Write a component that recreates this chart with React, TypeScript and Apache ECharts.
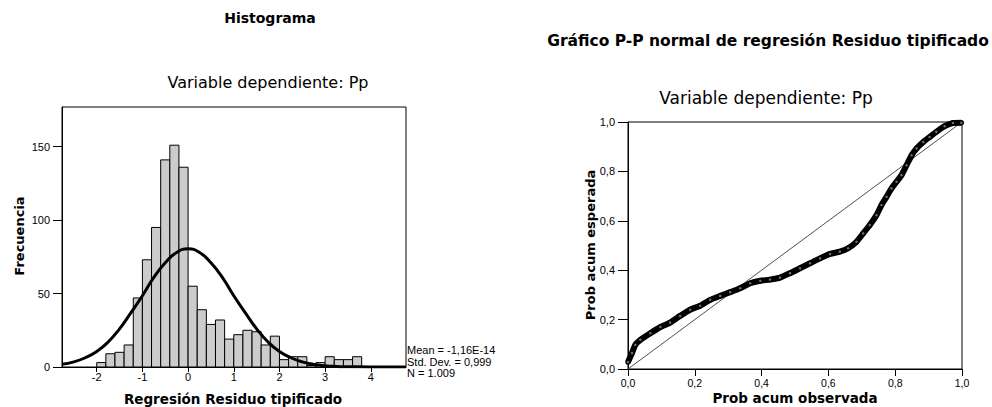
import React, { useEffect, useRef } from "react";
import * as echarts from "echarts";

// Histogram: bin starts (width 0.2) and counts
const histBinStart = [-2.0, -1.8, -1.6, -1.4, -1.2, -1.0, -0.8, -0.6, -0.4, -0.2, 0.0, 0.2, 0.4, 0.6, 0.8, 1.0, 1.2, 1.4, 1.6, 1.8, 2.0, 2.2, 2.4, 2.6, 2.8, 3.0, 3.2, 3.4, 3.6];
const histCounts = [3, 9, 10, 15, 47, 73, 95, 141, 151, 136, 55, 39, 29, 32, 19, 22, 25, 24, 15, 21, 5, 7, 7, 1, 3, 7, 5, 5, 7];
const histBinWidth = 0.2;

// Normal curve
const curveX = [-2.76, -2.5, -2.25, -2.0, -1.75, -1.5, -1.25, -1.0, -0.75, -0.5, -0.25, 0.0, 0.25, 0.5, 0.75, 1.0, 1.25, 1.5, 1.75, 2.0, 2.25, 2.5, 2.75, 3.0, 3.25, 3.5, 4.0, 4.77];
const curveY = [1.8, 3.5, 6.3, 10.5, 17, 26, 37, 48.5, 61, 71, 78, 80.5, 78, 71, 61, 48.5, 37, 26, 17, 10.5, 6.3, 3.5, 1.8, 0.9, 0.4, 0.2, 0, 0];

const histYTicks = [0, 50, 100, 150];
const histXTicks = [-2, -1, 0, 1, 2, 3, 4];
const statLines = ["Mean = -1,16E-14", "Std. Dev. = 0,999", "N = 1.009"];

// P-P plot: observed vs expected cumulative probability
const ppObs = [0.0, 0.012, 0.022, 0.037, 0.067, 0.097, 0.126, 0.156, 0.186, 0.216, 0.246, 0.276, 0.306, 0.336, 0.366, 0.396, 0.425, 0.455, 0.485, 0.515, 0.545, 0.575, 0.605, 0.634, 0.659, 0.684, 0.704, 0.724, 0.744, 0.759, 0.774, 0.789, 0.804, 0.819, 0.834, 0.849, 0.864, 0.884, 0.903, 0.923, 0.948, 0.973, 0.998];
const ppExp = [0.028, 0.065, 0.098, 0.118, 0.145, 0.17, 0.188, 0.215, 0.24, 0.256, 0.28, 0.296, 0.311, 0.327, 0.347, 0.357, 0.362, 0.37, 0.388, 0.408, 0.428, 0.448, 0.466, 0.475, 0.489, 0.515, 0.549, 0.583, 0.623, 0.664, 0.697, 0.731, 0.758, 0.785, 0.825, 0.865, 0.893, 0.919, 0.939, 0.96, 0.983, 0.996, 0.997];
const ppTicks = [0, 0.2, 0.4, 0.6, 0.8, 1.0];

const titleLeft = "Histograma";
const titleRight = "Gráfico P-P normal de regresión Residuo tipificado";
const subtitle = "Variable dependiente: Pp";

export default function App() {
  const ref = useRef<HTMLDivElement>(null);
  useEffect(() => {
    if (!ref.current) return;
    const chart = echarts.init(ref.current, null, { renderer: "svg" });
    const tickFont = { color: "#000", fontSize: 11, fontFamily: "Liberation Sans" };
    const fmtComma = (v: number) => v.toFixed(1).replace(".", ",");
    const option: any = {
      animation: false,
      backgroundColor: "#fff",
      grid: [
        { left: 62, top: 107, width: 344, height: 260, show: true, borderColor: "#000", borderWidth: 1, containLabel: false },
        { left: 628, top: 122, width: 334, height: 247, show: true, borderColor: "#000", borderWidth: 1, containLabel: false },
      ],
      xAxis: [
        {
          gridIndex: 0, type: "value", min: -2.76, max: 4.77,
          splitLine: { show: false },
          axisLine: { onZero: false, lineStyle: { color: "#000", width: 1 } },
          axisTick: { length: 5, lineStyle: { color: "#000" }, customValues: histXTicks },
          axisLabel: { ...tickFont, margin: 4, customValues: histXTicks },
        },
        {
          gridIndex: 1, type: "value", min: 0, max: 1, interval: 0.2,
          splitLine: { show: false },
          axisLine: { onZero: false, lineStyle: { color: "#000", width: 1 } },
          axisTick: { length: 7, lineStyle: { color: "#000" }, customValues: ppTicks },
          axisLabel: { ...tickFont, fontSize: 10.5, margin: 8, formatter: fmtComma, customValues: ppTicks },
        },
      ],
      yAxis: [
        {
          gridIndex: 0, type: "value", min: 0, max: 177,
          splitLine: { show: false },
          axisLine: { show: true, onZero: false, lineStyle: { color: "#000", width: 1 } },
          axisTick: { show: true, length: 9, lineStyle: { color: "#000" }, customValues: histYTicks },
          axisLabel: { ...tickFont, margin: 12, customValues: histYTicks },
        },
        {
          gridIndex: 1, type: "value", min: 0, max: 1, interval: 0.2,
          splitLine: { show: false },
          axisLine: { show: true, onZero: false, lineStyle: { color: "#000", width: 1 } },
          axisTick: { show: true, length: 10, lineStyle: { color: "#000" }, customValues: ppTicks },
          axisLabel: { ...tickFont, margin: 13, formatter: fmtComma, customValues: ppTicks },
        },
      ],
      series: [
        {
          type: "custom",
          xAxisIndex: 0, yAxisIndex: 0,
          data: histBinStart.map((s, i) => [s, s + histBinWidth, histCounts[i]]),
          encode: { x: [0, 1], y: 2 },
          renderItem: (params: any, api: any) => {
            const p0 = api.coord([api.value(0), 0]);
            const p1 = api.coord([api.value(1), api.value(2)]);
            return {
              type: "rect",
              shape: { x: p0[0], y: p1[1], width: p1[0] - p0[0], height: p0[1] - p1[1] },
              style: { fill: "#cccccc", stroke: "#000", lineWidth: 1 },
            };
          },
          z: 2,
        },
        {
          type: "line",
          xAxisIndex: 0, yAxisIndex: 0,
          data: curveX.map((x, i) => [x, curveY[i]]),
          smooth: true,
          showSymbol: false,
          symbol: "none",
          lineStyle: { color: "#000", width: 3 },
          z: 3,
        },
        {
          type: "line",
          xAxisIndex: 1, yAxisIndex: 1,
          data: [[0, 0], [1, 1]],
          symbol: "none",
          lineStyle: { color: "#222", width: 0.8 },
          z: 2,
        },
        {
          type: "line",
          xAxisIndex: 1, yAxisIndex: 1,
          data: ppObs.map((x, i) => [x, ppExp[i]]),
          smooth: 0.2,
          symbol: "circle",
          symbolSize: 4,
          showSymbol: true,
          itemStyle: { color: "#707070", borderColor: "#000", borderWidth: 1.5 },
          lineStyle: { color: "#000", width: 6 },
          z: 3,
        },
      ],
      graphic: [
        { type: "text", style: { text: titleLeft, x: 270, y: 18, align: "center", verticalAlign: "middle", font: "bold 14px 'DejaVu Sans'", fill: "#000" } },
        { type: "text", style: { text: subtitle, x: 268, y: 82, align: "center", verticalAlign: "middle", font: "16px 'DejaVu Sans'", fill: "#000" } },
        { type: "text", style: { text: titleRight, x: 768, y: 41, align: "center", verticalAlign: "middle", font: "bold 15.5px 'DejaVu Sans'", fill: "#000" } },
        { type: "text", style: { text: subtitle, x: 766, y: 98, align: "center", verticalAlign: "middle", font: "17px 'DejaVu Sans'", fill: "#000" } },
        { type: "text", style: { text: "Regresión Residuo tipificado", x: 233, y: 399, align: "center", verticalAlign: "middle", font: "bold 13.5px 'DejaVu Sans'", fill: "#000" } },
        { type: "text", style: { text: "Prob acum observada", x: 795, y: 398, align: "center", verticalAlign: "middle", font: "bold 13.5px 'DejaVu Sans'", fill: "#000" } },
        { type: "text", x: 19, y: 236, rotation: Math.PI / 2, style: { text: "Frecuencia", x: 0, y: 0, align: "center", verticalAlign: "middle", font: "bold 13px 'DejaVu Sans'", fill: "#000" } },
        { type: "text", x: 590, y: 245, rotation: Math.PI / 2, style: { text: "Prob acum esperada", x: 0, y: 0, align: "center", verticalAlign: "middle", font: "bold 13px 'DejaVu Sans'", fill: "#000" } },
        ...statLines.map((t, i) => ({
          type: "text",
          style: { text: t, x: 407, y: 350 + i * 11.5, align: "left", verticalAlign: "middle", font: "11px 'Liberation Sans'", fill: "#000" },
        })),
      ],
    };
    chart.setOption(option);
    return () => chart.dispose();
  }, []);
  return <div ref={ref} style={{ position: "fixed", left: 0, top: 0, width: 992, height: 407 }} />;
}
